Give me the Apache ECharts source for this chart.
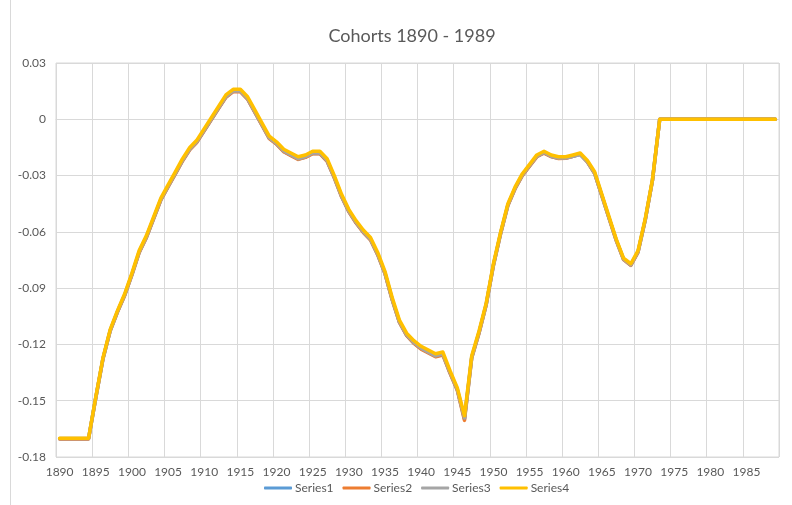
<!DOCTYPE html>
<html>
<head>
<meta charset="utf-8">
<script src="https://cdn.jsdelivr.net/npm/echarts@6/dist/echarts.min.js"></script>
<style>
  html, body { margin: 0; padding: 0; background: #fff; }
  #chart { width: 792px; height: 505px; }
</style>
</head>
<body>
<div id="chart"></div>
<script>
// cohort years 1890..1989
const years = [];
for (let y = 1890; y <= 1989; y++) years.push(String(y));

const yTicks = { min: -0.18, max: 0.03, step: 0.03 };

const series1 = [
  -0.1703, -0.1703, -0.1703, -0.1703, -0.1703,
  -0.1485, -0.1276, -0.1126, -0.1026, -0.0937, -0.0828, -0.0709, -0.0629, -0.0529, -0.0429,
  -0.0359, -0.0290, -0.0220, -0.0160, -0.0120, -0.0060, 0.0000, 0.0060, 0.0119, 0.0149,
  0.0149, 0.0109, 0.0039, -0.0031, -0.0101, -0.0131, -0.0171, -0.0192, -0.0212, -0.0201,
  -0.0181, -0.0182, -0.0222, -0.0311, -0.0411, -0.0491, -0.0551, -0.0601, -0.0641, -0.0721,
  -0.0821, -0.0961, -0.1081, -0.1151, -0.1192, -0.1222, -0.1243, -0.1263, -0.1253, -0.1351,
  -0.1441, -0.1598, -0.1270, -0.1139, -0.0988, -0.0778, -0.0608, -0.0458, -0.0368, -0.0298,
  -0.0248, -0.0198, -0.0178, -0.0198, -0.0208, -0.0207, -0.0197, -0.0187, -0.0227, -0.0288,
  -0.0407, -0.0527, -0.0646, -0.0746, -0.0777, -0.0707, -0.0536, -0.0325, 0,
  0, 0, 0, 0, 0, 0, 0, 0, 0, 0, 0, 0, 0, 0, 0, 0
];

const series2 = [
  -0.1704, -0.1704, -0.1704, -0.1704, -0.1704,
  -0.1486, -0.1277, -0.1128, -0.1028, -0.0939, -0.0830, -0.0711, -0.0631, -0.0531, -0.0431,
  -0.0361, -0.0292, -0.0222, -0.0162, -0.0122, -0.0062, -0.0002, 0.0058, 0.0117, 0.0147,
  0.0147, 0.0107, 0.0037, -0.0033, -0.0103, -0.0133, -0.0173, -0.0194, -0.0214, -0.0203,
  -0.0183, -0.0184, -0.0224, -0.0313, -0.0413, -0.0493, -0.0553, -0.0603, -0.0643, -0.0723,
  -0.0823, -0.0963, -0.1083, -0.1153, -0.1194, -0.1225, -0.1246, -0.1266, -0.1256, -0.1354,
  -0.1444, -0.1605, -0.1273, -0.1142, -0.0990, -0.0780, -0.0610, -0.0460, -0.0370, -0.0300,
  -0.0250, -0.0200, -0.0180, -0.0199, -0.0209, -0.0208, -0.0197, -0.0186, -0.0228, -0.0289,
  -0.0409, -0.0529, -0.0648, -0.0748, -0.0779, -0.0709, -0.0538, -0.0326, 0,
  0, 0, 0, 0, 0, 0, 0, 0, 0, 0, 0, 0, 0, 0, 0, 0
];

const series3 = [
  -0.1702, -0.1702, -0.1702, -0.1702, -0.1702,
  -0.1484, -0.1275, -0.1125, -0.1025, -0.0936, -0.0826, -0.0707, -0.0627, -0.0527, -0.0427,
  -0.0357, -0.0288, -0.0218, -0.0158, -0.0118, -0.0058, 0.0002, 0.0062, 0.0121, 0.0151,
  0.0151, 0.0111, 0.0041, -0.0029, -0.0099, -0.0129, -0.0169, -0.0190, -0.0210, -0.0200,
  -0.0180, -0.0180, -0.0220, -0.0309, -0.0409, -0.0489, -0.0549, -0.0599, -0.0639, -0.0719,
  -0.0819, -0.0959, -0.1079, -0.1149, -0.1190, -0.1220, -0.1241, -0.1261, -0.1251, -0.1349,
  -0.1439, -0.1592, -0.1268, -0.1137, -0.0986, -0.0776, -0.0606, -0.0456, -0.0366, -0.0296,
  -0.0246, -0.0197, -0.0177, -0.0197, -0.0207, -0.0207, -0.0197, -0.0188, -0.0227, -0.0287,
  -0.0406, -0.0526, -0.0645, -0.0745, -0.0776, -0.0706, -0.0535, -0.0324, 0,
  0, 0, 0, 0, 0, 0, 0, 0, 0, 0, 0, 0, 0, 0, 0, 0
];

const series4 = [
  -0.170, -0.170, -0.170, -0.170, -0.170,
  -0.148, -0.127, -0.112, -0.102, -0.093, -0.082, -0.070, -0.062, -0.052, -0.042,
  -0.035, -0.028, -0.021, -0.015, -0.011, -0.005, 0.001, 0.007, 0.013, 0.016,
  0.016, 0.012, 0.005, -0.002, -0.009, -0.012, -0.016, -0.018, -0.020, -0.019,
  -0.017, -0.017, -0.021, -0.030, -0.040, -0.048, -0.054, -0.059, -0.063, -0.071,
  -0.081, -0.095, -0.107, -0.114, -0.118, -0.121, -0.123, -0.125, -0.124, -0.134,
  -0.143, -0.158, -0.126, -0.113, -0.098, -0.077, -0.060, -0.045, -0.036, -0.029,
  -0.024, -0.019, -0.017, -0.019, -0.020, -0.020, -0.019, -0.018, -0.022, -0.028,
  -0.040, -0.052, -0.064, -0.074, -0.077, -0.070, -0.053, -0.032, 0,
  0, 0, 0, 0, 0, 0, 0, 0, 0, 0, 0, 0, 0, 0, 0, 0
];

const seriesNames = ['Series1', 'Series2', 'Series3', 'Series4'];
const seriesColors = ['#5B9BD5', '#ED7D31', '#A5A5A5', '#FFC000'];
const seriesData = [series1, series2, series3, series4];

const font = 'Lato, "Open Sans", sans-serif';
const chart = echarts.init(document.getElementById('chart'), null, { renderer: 'canvas' });

chart.setOption({
  animation: false,
  title: {
    text: 'Cohorts 1890 - 1989',
    left: 407,
    top: 22,
    textAlign: 'center',
    textStyle: { color: '#595959', fontSize: 18, fontWeight: 'normal', fontFamily: font }
  },
  // outer chart frame edge on the left
  graphic: [{
    type: 'line',
    shape: { x1: 10.5, y1: 0, x2: 10.5, y2: 505 },
    style: { stroke: '#D9D9D9', lineWidth: 1 },
    silent: true
  }],
  legend: {
    bottom: 6,
    left: 259,
    itemWidth: 28,
    itemHeight: 3,
    itemGap: 9,
    icon: 'roundRect',
    textStyle: { color: '#595959', fontSize: 12, fontFamily: font, padding: [0, 0, 0, -2] },
    data: seriesNames
  },
  grid: {
    left: 56, right: 13, top: 63, bottom: 48,
    show: true, borderColor: '#D9D9D9', borderWidth: 1
  },
  xAxis: {
    type: 'category',
    data: years,
    boundaryGap: true,
    axisLine: { lineStyle: { color: '#D9D9D9' } },
    axisTick: { show: false },
    axisLabel: { interval: 4, color: '#595959', fontSize: 12, fontFamily: font, margin: 9 },
    splitLine: { show: true, interval: 4, lineStyle: { color: '#D9D9D9' } }
  },
  yAxis: {
    type: 'value',
    min: yTicks.min,
    max: yTicks.max,
    interval: yTicks.step,
    axisLine: { show: false },
    axisTick: { show: false },
    axisLabel: {
      color: '#595959', fontSize: 12, fontFamily: font, margin: 10,
      formatter: (v) => String(parseFloat(v.toFixed(2)))
    },
    splitLine: { lineStyle: { color: '#D9D9D9' } }
  },
  series: seriesNames.map((name, i) => ({
    name,
    type: 'line',
    data: seriesData[i],
    symbol: 'none',
    lineStyle: { width: 3.5, color: seriesColors[i], cap: 'round', join: 'round' },
    itemStyle: { color: seriesColors[i] }
  }))
});
</script>
</body>
</html>
